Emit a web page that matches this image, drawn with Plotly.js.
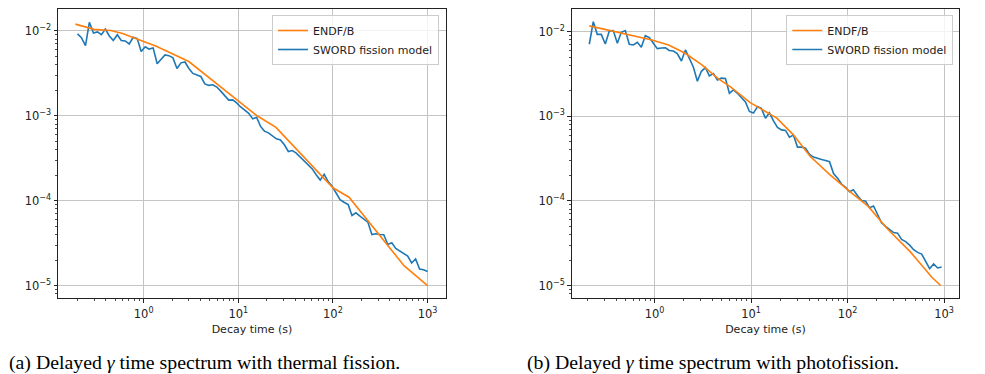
<!DOCTYPE html>
<html>
<head>
<meta charset="utf-8">
<script src="https://cdn.plot.ly/plotly-3.0.1.min.js"></script>
<style>
  html, body { margin: 0; padding: 0; background: #ffffff; }
  #chart { width: 985px; height: 374px; }
</style>
</head>
<body>
<div id="chart"></div>
<script>
// ---------- data ----------
// (a) thermal fission
const leftTime = [0.200,0.220,0.243,0.267,0.295,0.325,0.358,0.394,0.434,0.478,0.527,0.580,0.639,0.704,0.776,0.855,0.942,1.04,1.14,1.26,1.39,1.53,1.68,1.85,2.04,2.25,2.48,2.73,3.01,3.31,3.65,4.02,4.43,4.88,5.38,5.93,6.53,7.19,7.92,8.73,9.61,10.6,11.7,12.9,14.2,15.6,17.2,18.9,20.8,23.0,25.3,27.9,30.7,33.8,37.2,41.0,45.2,49.8,54.8,60.5,66.6,73.4,80.8,89.0,98.1,108,119,131,145,159,175,193,213,234,258,284,313,345,380,419,461,508,560,617,679,748,824,908,1000];
const leftSword = [9.2e-3,8.3e-3,6.7e-3,1.26e-2,9.4e-3,9.7e-3,9.0e-3,1.05e-2,8.7e-3,7.7e-3,9.0e-3,7.7e-3,7.6e-3,7.0e-3,8.4e-3,8.1e-3,5.7e-3,6.5e-3,6.1e-3,6.3e-3,4.1e-3,4.6e-3,5.2e-3,5.1e-3,4.8e-3,3.6e-3,4.2e-3,4.3e-3,3.6e-3,3.15e-3,3.0e-3,2.9e-3,2.37e-3,2.28e-3,2.32e-3,2.18e-3,1.95e-3,1.72e-3,1.53e-3,1.54e-3,1.42e-3,1.27e-3,1.16e-3,1.07e-3,9.2e-4,9.6e-4,7.5e-4,6.6e-4,6.3e-4,5.8e-4,5.35e-4,5.2e-4,4.55e-4,3.8e-4,3.9e-4,3.64e-4,3.28e-4,2.95e-4,2.66e-4,2.37e-4,2.02e-4,1.75e-4,2.05e-4,1.68e-4,1.48e-4,1.22e-4,1.03e-4,9.6e-5,9.0e-5,6.7e-5,7.2e-5,6.6e-5,6.1e-5,5.6e-5,4.0e-5,4.09e-5,4.0e-5,3.98e-5,3.05e-5,3.2e-5,2.75e-5,2.56e-5,2.4e-5,2.23e-5,1.85e-5,2.06e-5,1.57e-5,1.54e-5,1.47e-5];
const leftEndfTime = [0.19,0.3,0.45,0.6,0.85,1.36,3.0,15.8,25,100,148,564,1000];
const leftEndf = [1.2e-2,1.04e-2,1.01e-2,9.3e-3,8.0e-3,6.6e-3,4.35e-3,1.0e-3,7.3e-4,1.42e-4,1.1e-4,1.72e-5,1.0e-5];

// (b) photofission
const rightTime = [0.211,0.232,0.255,0.281,0.309,0.340,0.374,0.412,0.453,0.498,0.548,0.603,0.664,0.730,0.803,0.884,0.972,1.07,1.18,1.30,1.42,1.57,1.72,1.90,2.09,2.30,2.53,2.78,3.06,3.37,3.70,4.08,4.48,4.93,5.43,5.97,6.57,7.23,7.95,8.75,9.63,10.6,11.7,12.8,14.1,15.5,17.1,18.8,20.7,22.8,25.0,27.5,30.3,33.3,36.7,40.4,44.4,48.9,53.8,59.2,65.1,71.6,78.8,86.7,95.4,105,115,127,140,154,169,186,205,225,248,273,300,330,363,400,440,484,532,586,645,709,780,858,944];
const rightSword = [7.1e-3,1.31e-2,9.3e-3,9.3e-3,7.16e-3,1.02e-2,1.03e-2,7.3e-3,9.84e-3,1.03e-2,7.1e-3,6.97e-3,7.5e-3,6.55e-3,8.97e-3,8.5e-3,7.3e-3,6.3e-3,6.4e-3,6.45e-3,6.0e-3,5.9e-3,5.5e-3,4.5e-3,6.08e-3,4.7e-3,3.8e-3,2.6e-3,3.4e-3,3.76e-3,3.0e-3,3.2e-3,2.69e-3,2.82e-3,2.8e-3,1.87e-3,2.05e-3,1.87e-3,1.68e-3,1.48e-3,1.14e-3,1.09e-3,1.3e-3,1.24e-3,9.5e-4,1.1e-3,8.8e-4,7.4e-4,6.9e-4,6.8e-4,5.66e-4,6.0e-4,4.32e-4,4.32e-4,4.2e-4,3.55e-4,3.29e-4,3.15e-4,3.08e-4,3.0e-4,2.9e-4,2.1e-4,1.85e-4,1.58e-4,1.45e-4,1.28e-4,1.35e-4,1.15e-4,1.01e-4,9.9e-5,8.3e-5,8.7e-5,6.8e-5,5.5e-5,5.0e-5,4.6e-5,4.22e-5,4.15e-5,3.5e-5,3.3e-5,3.0e-5,2.65e-5,2.46e-5,2.35e-5,1.9e-5,1.58e-5,1.8e-5,1.61e-5,1.65e-5];
const rightEndfTime = [0.211,0.424,0.94,1.40,2.08,3.10,4.60,6.08,9.8,18.5,27.5,40.9,65.9,102,164,264,443,744,922];
const rightEndf = [1.17e-2,9.85e-3,7.98e-3,6.97e-3,5.56e-3,4.05e-3,2.77e-3,2.24e-3,1.45e-3,9.5e-4,6.03e-4,3.37e-4,2.03e-4,1.33e-4,8.6e-5,4.56e-5,2.53e-5,1.26e-5,1.0e-5];

// tick labels
const xTickVals = [1, 10, 100, 1000];
const xTickText = ['10<sup>0</sup>', '10<sup>1</sup>', '10<sup>2</sup>', '10<sup>3</sup>'];
const yTickVals = [1e-5, 1e-4, 1e-3, 1e-2];
const yTickText = ['10<sup>\u22125</sup>', '10<sup>\u22124</sup>', '10<sup>\u22123</sup>', '10<sup>\u22122</sup>'];

const seriesNames = ['SWORD fission model', 'ENDF/B'];
const axisTitle = 'Decay time (s)';
const captions = ['(a) Delayed <i>\u03b3</i> time spectrum with thermal fission.',
                  '(b) Delayed <i>\u03b3</i> time spectrum with photofission.'];

// ---------- styling ----------
const BLUE = '#1f77b4', ORANGE = '#ff7f0e', INK = '#222222';
const FONT = 'DejaVu Sans, sans-serif';

function minorVals(lo, hi) {
  const v = [];
  for (let e = lo; e <= hi; e++) for (let m = 2; m <= 9; m++) v.push(m * Math.pow(10, e));
  return v;
}

function logAxis(range, tv, tt, minorLo, minorHi, extra) {
  return Object.assign({
    type: 'log', range: range, autorange: false,
    showline: true, linecolor: INK, linewidth: 1, mirror: true,
    ticks: 'outside', ticklen: 3.5, tickwidth: 1, tickcolor: INK,
    showgrid: true, gridcolor: '#c4c4c4', gridwidth: 1, zeroline: false,
    tickmode: 'array', tickvals: tv, ticktext: tt,
    tickfont: { family: FONT, size: 11.5, color: INK },
    minor: { ticks: 'outside', ticklen: 2, tickwidth: 0.8, tickcolor: INK, showgrid: false,
             tickmode: 'array', tickvals: minorVals(minorLo, minorHi) }
  }, extra || {});
}

const W = 985, H = 374;
const plotTop = 9, plotBottom = 298;
const yDom = [1 - plotBottom / H, 1 - plotTop / H];

const traces = [
  { x: leftTime, y: leftSword, name: seriesNames[0], type: 'scatter', mode: 'lines',
    line: { color: BLUE, width: 1.6 }, xaxis: 'x', yaxis: 'y', legend: 'legend' },
  { x: leftEndfTime, y: leftEndf, name: seriesNames[1], type: 'scatter', mode: 'lines',
    line: { color: ORANGE, width: 1.6 }, xaxis: 'x', yaxis: 'y', legend: 'legend' },
  { x: rightTime, y: rightSword, name: seriesNames[0], type: 'scatter', mode: 'lines',
    line: { color: BLUE, width: 1.6 }, xaxis: 'x2', yaxis: 'y2', legend: 'legend2' },
  { x: rightEndfTime, y: rightEndf, name: seriesNames[1], type: 'scatter', mode: 'lines',
    line: { color: ORANGE, width: 1.6 }, xaxis: 'x2', yaxis: 'y2', legend: 'legend2' }
];

const legendBase = {
  xanchor: 'right', yanchor: 'top', y: 1 - 15 / H,
  bgcolor: 'rgba(255,255,255,0.8)', bordercolor: '#cccccc', borderwidth: 1,
  font: { family: FONT, size: 11, color: INK }, traceorder: 'reversed',
  itemwidth: 30
};

const xTitle = { text: axisTitle, font: { family: FONT, size: 11, color: INK }, standoff: 5 };

const captionFont = { family: 'Liberation Serif, Times New Roman, serif', size: 19.8, color: '#000' };

const layout = {
  width: W, height: H,
  margin: { l: 0, r: 0, t: 0, b: 0, pad: 0 },
  paper_bgcolor: '#ffffff', plot_bgcolor: '#ffffff',
  showlegend: true,
  xaxis: logAxis([-0.905, 3.195], xTickVals, xTickText, -1, 3,
    { domain: [58 / W, 446 / W], anchor: 'y', title: xTitle, ticklabelstandoff: 2 }),
  yaxis: logAxis([-5.145, -1.743], yTickVals, yTickText, -6, -2,
    { domain: yDom, anchor: 'x' }),
  xaxis2: logAxis([-0.858, 3.158], xTickVals, xTickText, -1, 3,
    { domain: [571.7 / W, 959.3 / W], anchor: 'y2', title: xTitle, ticklabelstandoff: 2 }),
  yaxis2: logAxis([-5.148, -1.732], yTickVals, yTickText, -6, -2,
    { domain: yDom, anchor: 'x2' }),
  legend: Object.assign({}, legendBase, { x: 439 / W }),
  legend2: Object.assign({}, legendBase, { x: 953.3 / W }),
  annotations: [
    { text: captions[0], xref: 'paper', yref: 'paper', x: 7 / W, y: 1 - 362 / H,
      xanchor: 'left', yanchor: 'middle', showarrow: false, font: captionFont },
    { text: captions[1], xref: 'paper', yref: 'paper', x: 525 / W, y: 1 - 362 / H,
      xanchor: 'left', yanchor: 'middle', showarrow: false, font: captionFont }
  ]
};

Plotly.newPlot('chart', traces, layout, { staticPlot: true, displayModeBar: false });
</script>
</body>
</html>
